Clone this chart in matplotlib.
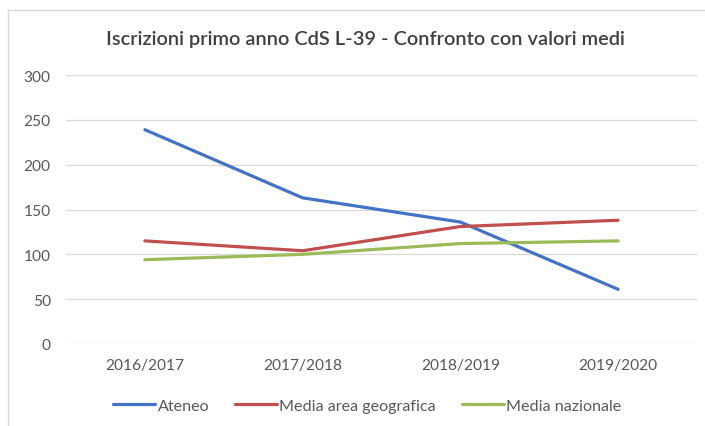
import matplotlib
matplotlib.use("Agg")
import matplotlib.pyplot as plt
from matplotlib.lines import Line2D

# dati
anni = ["2016/2017", "2017/2018", "2018/2019", "2019/2020"]
ateneo = [239, 163, 136, 61]
media_area = [115, 104, 131, 138]
media_naz = [94, 100, 112, 115]

plt.rcParams['font.family'] = ['Lato', 'DejaVu Sans']
grigio = '#595959'

fig = plt.figure(figsize=(7.05, 4.27), dpi=100)
ax = fig.add_axes([66 / 705, 1 - 345 / 427, 631 / 705, 269 / 427])

x = list(range(len(anni)))
ax.plot(x, ateneo, color='#4472C4', lw=2.3, label='Ateneo', solid_capstyle='round')
ax.plot(x, media_area, color='#C0504D', lw=2.3, label='Media area geografica', solid_capstyle='round')
ax.plot(x, media_naz, color='#9BBB59', lw=2.3, label='Media nazionale', solid_capstyle='round')

ax.set_xlim(-0.5, len(anni) - 0.5)
ax.set_ylim(0, 300)
ax.set_yticks(range(0, 301, 50))
ax.set_xticks(x)
ax.set_xticklabels(anni)
ax.grid(axis='y', color='#D9D9D9', lw=0.9)
ax.set_axisbelow(True)
for s in ax.spines.values():
    s.set_visible(False)
ax.tick_params(length=0, colors=grigio, labelsize=11.2)
ax.tick_params(axis='y', pad=11)
ax.tick_params(axis='x', pad=10)

fig.text(0.518, 1 - 40 / 427, "Iscrizioni primo anno CdS L-39 - Confronto con valori medi",
         ha='center', va='center', fontsize=14.4, color='#404040', fontweight='semibold')

ax.legend(loc='center', bbox_to_anchor=(0.521, 1 - 407 / 427), bbox_transform=fig.transFigure,
          ncol=3, frameon=False, fontsize=11.6, labelcolor=grigio, handlelength=2.6,
          handletextpad=0.15, columnspacing=1.6)

# bordo del riquadro del grafico
fig.add_artist(Line2D([8 / 705, 8 / 705], [0, 1 - 11 / 427], color='#D9D9D9', lw=1))
fig.add_artist(Line2D([8 / 705, 1], [1 - 11 / 427, 1 - 11 / 427], color='#D9D9D9', lw=1))

fig.savefig("out.png", dpi=100)
